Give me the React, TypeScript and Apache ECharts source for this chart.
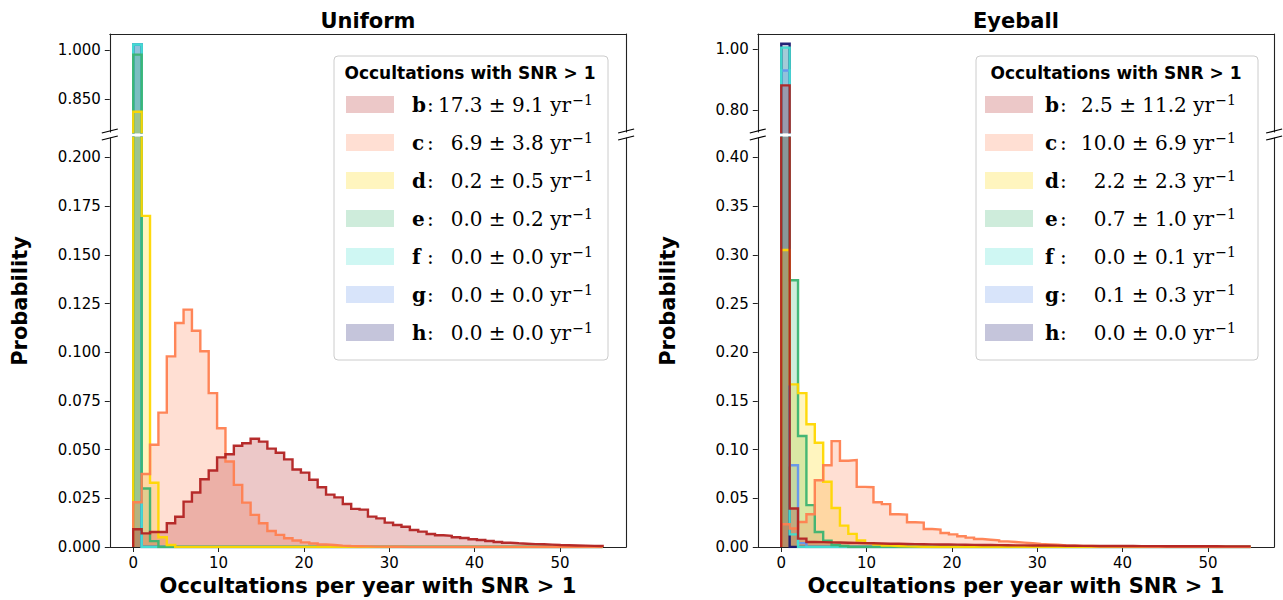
import { useEffect, useRef } from "react";
import * as echarts from "echarts";

// Histogram grid: 56 equal bins spanning 0..55 occultations per year
const X_MAX = 55;
const X_VIEW = [-2.75, 57.75];
const X_TICKS = [0, 10, 20, 30, 40, 50];

const PLANETS = ["b", "c", "d", "e", "f", "g", "h"];
const EDGE_COLORS = ["#b22222", "#ff7f50", "#ffd700", "#3cb371", "#40e0d0", "#6495ed", "#191970"];
const FILL_ALPHA = 0.25;

const UNIFORM_RATES = ["17.3 ± 9.1", "6.9 ± 3.8", "0.2 ± 0.5", "0.0 ± 0.2", "0.0 ± 0.0", "0.0 ± 0.0", "0.0 ± 0.0"];
const EYEBALL_RATES = ["2.5 ± 11.2", "10.0 ± 6.9", "2.2 ± 2.3", "0.7 ± 1.0", "0.0 ± 0.1", "0.1 ± 0.3", "0.0 ± 0.0"];

// Uniform prior: probability per bin
const uniformB = [
  0.0091, 0.0070, 0.0077, 0.0077, 0.0122, 0.0155, 0.0233, 0.0280, 0.0348, 0.0393,
  0.0460, 0.0476, 0.0520, 0.0533, 0.0556, 0.0541, 0.0505, 0.0484, 0.0450, 0.0398,
  0.0382, 0.0345, 0.0307, 0.0269, 0.0255, 0.0221, 0.0196, 0.0192, 0.0156, 0.0147,
  0.0125, 0.0113, 0.0104, 0.0087, 0.0079, 0.0067, 0.0060, 0.0057, 0.0050, 0.0046,
  0.0040, 0.0036, 0.0031, 0.0026, 0.0022, 0.0019, 0.0017, 0.0015, 0.0014, 0.0012,
  0.0010, 0.0009, 0.0008, 0.0007, 0.0006, 0.0005,
];
const uniformC = [
  0.0230, 0.0375, 0.0525, 0.0690, 0.0979, 0.1150, 0.1219, 0.1110, 0.1005, 0.0790,
  0.0610, 0.0439, 0.0319, 0.0228, 0.0165, 0.0122, 0.0082, 0.0062, 0.0045, 0.0033,
  0.0024, 0.0018, 0.0013, 0.0010, 0.0007, 0.0005, 0.0004, 0.0003, 0.0002, 0.0002,
  0.0001, 0.0001, 0, 0, 0, 0, 0, 0, 0, 0,
  0, 0, 0, 0, 0, 0, 0, 0, 0, 0,
  0, 0, 0, 0, 0, 0,
];
const uniformD = [
  0.812, 0.170, 0.033, 0.005, 0.001, 0, 0, 0, 0, 0,
  0, 0, 0, 0, 0, 0, 0, 0, 0, 0,
  0, 0, 0, 0, 0, 0, 0, 0, 0, 0,
  0, 0, 0, 0, 0, 0, 0, 0, 0, 0,
  0, 0, 0, 0, 0, 0, 0, 0, 0, 0,
  0, 0, 0, 0, 0, 0,
];
const uniformE = [
  0.987, 0.030, 0.003, 0, 0, 0, 0, 0, 0, 0,
  0, 0, 0, 0, 0, 0, 0, 0, 0, 0,
  0, 0, 0, 0, 0, 0, 0, 0, 0, 0,
  0, 0, 0, 0, 0, 0, 0, 0, 0, 0,
  0, 0, 0, 0, 0, 0, 0, 0, 0, 0,
  0, 0, 0, 0, 0, 0,
];
const uniformF = [
  1.018, 0, 0, 0, 0, 0, 0, 0, 0, 0,
  0, 0, 0, 0, 0, 0, 0, 0, 0, 0,
  0, 0, 0, 0, 0, 0, 0, 0, 0, 0,
  0, 0, 0, 0, 0, 0, 0, 0, 0, 0,
  0, 0, 0, 0, 0, 0, 0, 0, 0, 0,
  0, 0, 0, 0, 0, 0,
];
const uniformG = [...uniformF];
const uniformH = [...uniformF];

// Eyeball prior: probability per bin
const eyeballB = [
  0.881, 0.0395, 0.0086, 0.0052, 0.0050, 0.0048, 0.0046, 0.0044, 0.0042, 0.0040,
  0.0038, 0.0036, 0.0034, 0.0033, 0.0031, 0.0030, 0.0028, 0.0027, 0.0026, 0.0025,
  0.0024, 0.0023, 0.0022, 0.0021, 0.0020, 0.0019, 0.0018, 0.0017, 0.0017, 0.0016,
  0.0015, 0.0015, 0.0014, 0.0013, 0.0013, 0.0012, 0.0012, 0.0011, 0.0011, 0.0010,
  0.0010, 0.0010, 0.0009, 0.0009, 0.0009, 0.0008, 0.0008, 0.0008, 0.0007, 0.0007,
  0.0007, 0.0007, 0.0006, 0.0006, 0.0006, 0.0006,
];
const eyeballC = [
  0.0233, 0.0190, 0.0257, 0.0336, 0.0686, 0.0840, 0.1087, 0.0885, 0.0892, 0.0617,
  0.0614, 0.0460, 0.0440, 0.0336, 0.0332, 0.0254, 0.0250, 0.0185, 0.0178, 0.0144,
  0.0130, 0.0110, 0.0096, 0.0082, 0.0075, 0.0069, 0.0058, 0.0051, 0.0045, 0.0038,
  0.0031, 0.0027, 0.0024, 0.0017, 0.0014, 0.0012, 0.0010, 0.0008, 0.0007, 0.0006,
  0.0005, 0.0004, 0.0004, 0.0003, 0.0003, 0.0002, 0.0002, 0.0002, 0.0001, 0.0001,
  0.0001, 0, 0, 0, 0, 0,
];
const eyeballD = [
  0.305, 0.167, 0.158, 0.126, 0.107, 0.067, 0.040, 0.022, 0.0135, 0.0066,
  0.0040, 0.0025, 0.0015, 0.0010, 0.0006, 0.0004, 0.0002, 0, 0, 0,
  0, 0, 0, 0, 0, 0, 0, 0, 0, 0,
  0, 0, 0, 0, 0, 0, 0, 0, 0, 0,
  0, 0, 0, 0, 0, 0, 0, 0, 0, 0,
  0, 0, 0, 0, 0, 0,
];
const eyeballE = [
  0.565, 0.274, 0.114, 0.043, 0.0154, 0.0065, 0.002, 0.001, 0, 0,
  0, 0, 0, 0, 0, 0, 0, 0, 0, 0,
  0, 0, 0, 0, 0, 0, 0, 0, 0, 0,
  0, 0, 0, 0, 0, 0, 0, 0, 0, 0,
  0, 0, 0, 0, 0, 0, 0, 0, 0, 0,
  0, 0, 0, 0, 0, 0,
];
const eyeballF = [
  1.005, 0.013, 0, 0, 0, 0, 0, 0, 0, 0,
  0, 0, 0, 0, 0, 0, 0, 0, 0, 0,
  0, 0, 0, 0, 0, 0, 0, 0, 0, 0,
  0, 0, 0, 0, 0, 0, 0, 0, 0, 0,
  0, 0, 0, 0, 0, 0, 0, 0, 0, 0,
  0, 0, 0, 0, 0, 0,
];
const eyeballG = [
  0.930, 0.084, 0.004, 0, 0, 0, 0, 0, 0, 0,
  0, 0, 0, 0, 0, 0, 0, 0, 0, 0,
  0, 0, 0, 0, 0, 0, 0, 0, 0, 0,
  0, 0, 0, 0, 0, 0, 0, 0, 0, 0,
  0, 0, 0, 0, 0, 0, 0, 0, 0, 0,
  0, 0, 0, 0, 0, 0,
];
const eyeballH = [
  1.018, 0, 0, 0, 0, 0, 0, 0, 0, 0,
  0, 0, 0, 0, 0, 0, 0, 0, 0, 0,
  0, 0, 0, 0, 0, 0, 0, 0, 0, 0,
  0, 0, 0, 0, 0, 0, 0, 0, 0, 0,
  0, 0, 0, 0, 0, 0, 0, 0, 0, 0,
  0, 0, 0, 0, 0, 0,
];

// Broken y-axis ranges and tick labels
const UNIFORM_UPPER_RANGE = [0.75, 1.05];
const UNIFORM_UPPER_TICKS = [0.85, 1.0];
const UNIFORM_LOWER_RANGE = [0, 0.21];
const UNIFORM_LOWER_TICKS = [0, 0.025, 0.05, 0.075, 0.1, 0.125, 0.15, 0.175, 0.2];
const EYEBALL_UPPER_RANGE = [0.7275, 1.05];
const EYEBALL_UPPER_TICKS = [0.8, 1.0];
const EYEBALL_LOWER_RANGE = [0, 0.42];
const EYEBALL_LOWER_TICKS = [0, 0.05, 0.1, 0.15, 0.2, 0.25, 0.3, 0.35, 0.4];

// Layout (px)
const PANEL_WIDTH = 516.3;
const UPPER_TOP = 34;
const UPPER_HEIGHT = 98;
const LOWER_TOP = 138;
const LOWER_HEIGHT = 409;

const SANS = "DejaVu Sans";
const SERIF = "DejaVu Serif";

type Panel = {
  title: string;
  left: number;
  hists: number[][];
  rates: string[];
  upperRange: number[];
  upperTicks: number[];
  lowerRange: number[];
  lowerTicks: number[];
  decimals: number;
  legend: { left: number; width: number; padLeft: number; padRight: number; lead: number; valueWidth: number };
};

const PANELS: Panel[] = [
  {
    title: "Uniform",
    left: 109.8,
    hists: [uniformB, uniformC, uniformD, uniformE, uniformF, uniformG, uniformH],
    rates: UNIFORM_RATES,
    upperRange: UNIFORM_UPPER_RANGE,
    upperTicks: UNIFORM_UPPER_TICKS,
    lowerRange: UNIFORM_LOWER_RANGE,
    lowerTicks: UNIFORM_LOWER_TICKS,
    decimals: 3,
    legend: { left: 334, width: 272, padLeft: 12, padRight: 15, lead: 13, valueWidth: 158 },
  },
  {
    title: "Eyeball",
    left: 757.8,
    hists: [eyeballB, eyeballC, eyeballD, eyeballE, eyeballF, eyeballG, eyeballH],
    rates: EYEBALL_RATES,
    upperRange: EYEBALL_UPPER_RANGE,
    upperTicks: EYEBALL_UPPER_TICKS,
    lowerRange: EYEBALL_LOWER_RANGE,
    lowerTicks: EYEBALL_LOWER_TICKS,
    decimals: 2,
    legend: { left: 976, width: 280, padLeft: 9, padRight: 22, lead: 7, valueWidth: 168 },
  },
];

function hexToRgba(hex: string, a: number) {
  const n = parseInt(hex.slice(1), 16);
  return `rgba(${(n >> 16) & 255},${(n >> 8) & 255},${n & 255},${a})`;
}

// Outline of a step histogram: up from the first edge, across every bin, down at the last edge
function stepOutline(values: number[]): [number, number][] {
  const w = X_MAX / values.length;
  const pts: [number, number][] = [[0, 0]];
  values.forEach((v, i) => {
    pts.push([i * w, v], [(i + 1) * w, v]);
  });
  pts.push([X_MAX, 0]);
  return pts;
}

const SPINE = { show: true, onZero: false, lineStyle: { color: "#222", width: 1.1 } };
const TICK_LABEL = { fontFamily: SANS, fontSize: 15, color: "#000" };
const ROW_HEIGHT = 24;

function buildOption() {
  const grid: any[] = [];
  const xAxis: any[] = [];
  const yAxis: any[] = [];
  const series: any[] = [];
  const legend: any[] = [];
  const graphic: any[] = [];

  PANELS.forEach((panel, pi) => {
    const upperIdx = pi * 2;
    const lowerIdx = pi * 2 + 1;
    grid.push(
      { left: panel.left, top: UPPER_TOP, width: PANEL_WIDTH, height: UPPER_HEIGHT },
      { left: panel.left, top: LOWER_TOP, width: PANEL_WIDTH, height: LOWER_HEIGHT }
    );

    xAxis.push(
      {
        type: "value", gridIndex: upperIdx, position: "top", min: X_VIEW[0], max: X_VIEW[1],
        axisLine: SPINE, axisTick: { show: false }, axisLabel: { show: false }, splitLine: { show: false },
      },
      {
        type: "value", gridIndex: lowerIdx, position: "bottom", min: X_VIEW[0], max: X_VIEW[1],
        axisLine: SPINE,
        axisTick: { show: true, length: 5, customValues: X_TICKS, lineStyle: { color: "#222" } },
        axisLabel: { show: true, customValues: X_TICKS, margin: 8, formatter: (v: number) => String(v), ...TICK_LABEL },
        splitLine: { show: false },
      }
    );

    const yPair = (gi: number, range: number[], ticks: number[]) => [
      {
        type: "value", gridIndex: gi, position: "left", min: range[0], max: range[1],
        axisLine: SPINE,
        axisTick: { show: true, length: 5, customValues: ticks, lineStyle: { color: "#222" } },
        axisLabel: {
          show: true, customValues: ticks, margin: 9,
          formatter: (v: number) => v.toFixed(panel.decimals), ...TICK_LABEL,
        },
        splitLine: { show: false },
      },
      {
        type: "value", gridIndex: gi, position: "right", min: range[0], max: range[1],
        axisLine: SPINE, axisTick: { show: false }, axisLabel: { show: false }, splitLine: { show: false },
      },
    ];
    yAxis.push(...yPair(upperIdx, panel.upperRange, panel.upperTicks));
    yAxis.push(...yPair(lowerIdx, panel.lowerRange, panel.lowerTicks));

    // h is drawn first and b last, so b sits on top
    for (let k = PLANETS.length - 1; k >= 0; k--) {
      const name = `${panel.title} ${PLANETS[k]}`;
      const data = stepOutline(panel.hists[k]);
      [upperIdx, lowerIdx].forEach((gi) => {
        series.push({
          type: "line",
          name,
          xAxisIndex: gi,
          yAxisIndex: gi * 2,
          data,
          symbol: "none",
          showSymbol: false,
          silent: true,
          clip: true,
          lineStyle: { color: EDGE_COLORS[k], width: 2.4, opacity: 0.95, join: "miter" },
          areaStyle: { color: EDGE_COLORS[k], opacity: FILL_ALPHA, origin: 0 },
          itemStyle: { color: EDGE_COLORS[k] },
        });
      });
    }

    const lg = panel.legend;
    legend.push({
      show: true,
      orient: "vertical",
      left: lg.left,
      top: 56,
      padding: [36.5, lg.padRight, 15.5, lg.padLeft],
      itemWidth: 48,
      itemHeight: 17,
      itemGap: 38 - ROW_HEIGHT,
      icon: "rect",
      selectedMode: false,
      borderColor: "#cccccc",
      borderWidth: 1,
      borderRadius: 4,
      backgroundColor: "rgba(255,255,255,0.8)",
      itemStyle: { borderWidth: 0 },
      data: PLANETS.map((p, k) => ({
        name: `${panel.title} ${p}`,
        itemStyle: { color: hexToRgba(EDGE_COLORS[k], FILL_ALPHA), borderWidth: 0 },
      })),
      formatter: (name: string) => {
        const p = name.split(" ")[1];
        const k = PLANETS.indexOf(p);
        return `{s| }{k|${p}}{c|:}{v|${panel.rates[k]} yr}{e|−1}`;
      },
      textStyle: {
        fontFamily: SERIF,
        fontSize: 20,
        color: "#000",
        lineHeight: ROW_HEIGHT,
        rich: {
          s: { width: lg.lead, fontSize: 20, lineHeight: ROW_HEIGHT },
          k: { width: 15, fontWeight: "bold", fontFamily: SERIF, fontSize: 20, lineHeight: ROW_HEIGHT, align: "left" },
          c: { width: 6, fontFamily: SERIF, fontSize: 20, lineHeight: ROW_HEIGHT, align: "left" },
          v: { width: lg.valueWidth - 20, fontFamily: SERIF, fontSize: 20, lineHeight: ROW_HEIGHT, align: "right" },
          e: {
            width: 20, fontFamily: SERIF, fontSize: 14, lineHeight: 14, align: "right",
            verticalAlign: "top", padding: [0, 0, 0, 2],
          },
        },
      },
    });

    const cx = panel.left + PANEL_WIDTH / 2;
    const textStyle = (text: string, size: number) => ({
      text, x: 0, y: 0, fill: "#000", fontFamily: SANS, fontWeight: "bold", fontSize: size,
      align: "center", verticalAlign: "middle", textAlign: "center", textVerticalAlign: "middle",
    });
    graphic.push(
      { type: "text", x: cx, y: 21, z: 10, style: textStyle(panel.title, 21) },
      { type: "text", x: cx, y: 586, z: 10, style: textStyle("Occultations per year with SNR > 1", 21) },
      { type: "text", x: panel.left - 89.8, y: 301, rotation: Math.PI / 2, z: 10, style: textStyle("Probability", 21) },
      { type: "text", x: lg.left + lg.width / 2, y: 73, z: 10, style: textStyle("Occultations with SNR > 1", 17) }
    );

    // Diagonal break marks on both spines
    [panel.left, panel.left + PANEL_WIDTH].forEach((sx) => {
      [UPPER_TOP + UPPER_HEIGHT - 1, LOWER_TOP].forEach((sy) => {
        graphic.push({
          type: "line", z: 10,
          shape: { x1: sx - 8, y1: sy + 2, x2: sx + 8, y2: sy - 2 },
          style: { stroke: "#000", lineWidth: 1.2 },
        });
      });
    });
  });

  return {
    animation: false,
    backgroundColor: "#ffffff",
    grid,
    xAxis,
    yAxis,
    series,
    legend,
    graphic,
  };
}

export default function App() {
  const ref = useRef<HTMLDivElement>(null);
  useEffect(() => {
    if (!ref.current) return;
    const chart = echarts.init(ref.current, undefined, { renderer: "svg" });
    chart.setOption(buildOption());
    return () => chart.dispose();
  }, []);
  return (
    <div
      ref={ref}
      style={{ position: "fixed", left: 0, top: 0, width: 1283, height: 600, background: "#fff" }}
    />
  );
}
